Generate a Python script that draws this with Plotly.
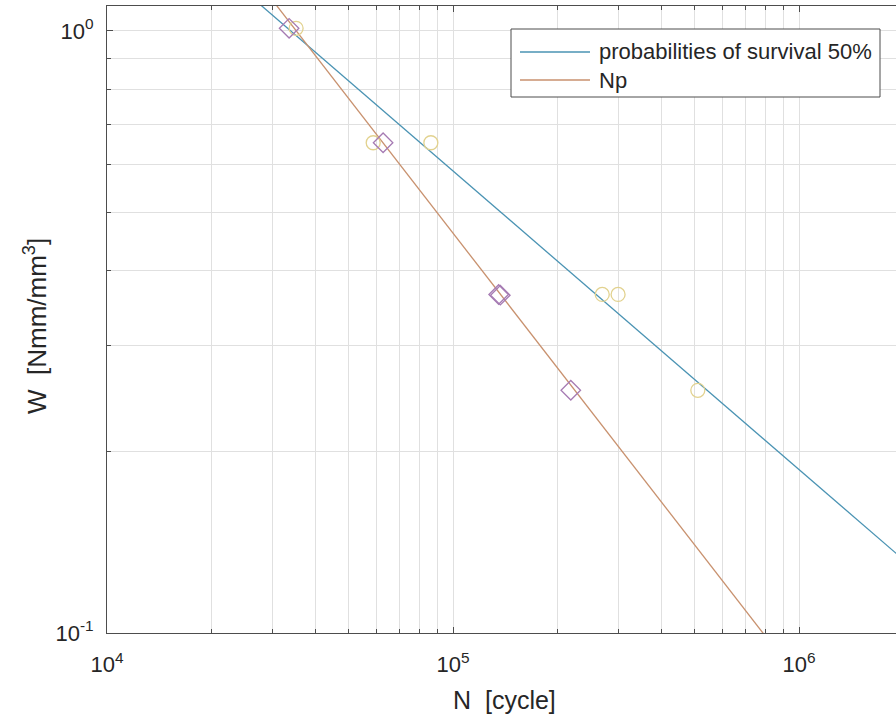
import numpy as np
import plotly.graph_objects as go

# ---- data ----
circle_N = [35200, 58800, 86300, 270000, 300000, 510000]
circle_W = [1.01, 0.652, 0.652, 0.365, 0.365, 0.253]

diamond_N = [33600, 62800, 135500, 137000, 219000]
diamond_W = [1.01, 0.652, 0.365, 0.364, 0.253]

p50_N = [25000, 2000000]
p50_W = [1.164, 0.1325]

np_N = [25000, 1000000]
np_W = [1.29, 0.0837]

legend_names = ["probabilities of survival 50%", "Np"]

x_major = [1e4, 1e5, 1e6]
x_major_text = ["10<sup>4</sup>", "10<sup>5</sup>", "10<sup>6</sup>"]
x_minor = [m * 10 ** e for e in (4, 5) for m in range(2, 10)] + [2e6]
y_major = [0.1, 1.0]
y_major_text = ["10<sup>-1</sup>", "10<sup>0</sup>"]
y_minor = [round(0.1 * k, 1) for k in range(2, 10)]

BLUE = "#4a93b3"
ORANGE = "#c8916e"
YELLOW = "#e2d28f"
PURPLE = "#a67bb3"
AX = "#4d4d4d"
GRID = "#e0e0e0"
FONT = "Liberation Sans, Arial, sans-serif"

fig = go.Figure()
fig.add_trace(go.Scatter(x=p50_N, y=p50_W, mode="lines", line=dict(color=BLUE, width=1.3),
                         name=legend_names[0], showlegend=False))
fig.add_trace(go.Scatter(x=np_N, y=np_W, mode="lines", line=dict(color=ORANGE, width=1.3),
                         name=legend_names[1], showlegend=False))
fig.add_trace(go.Scatter(x=circle_N, y=circle_W, mode="markers",
                         marker=dict(symbol="circle-open", size=14, color=YELLOW, line=dict(width=1.3)),
                         showlegend=False))
fig.add_trace(go.Scatter(x=diamond_N, y=diamond_W, mode="markers",
                         marker=dict(symbol="diamond-open", size=15, color=PURPLE, line=dict(width=1.3)),
                         showlegend=False))

L, T, B = 107, 6, 90
W, H = 896, 723
pw, ph = W - L, H - T - B

def px(xp):
    return (xp - L) / pw

def py(yp):
    return (H - B - yp) / ph

# custom legend (MATLAB-style)
shapes = [dict(type="rect", xref="paper", yref="paper", x0=px(511), x1=px(880), y0=py(97), y1=py(29),
               line=dict(color=AX, width=1), fillcolor="white", layer="above")]
annotations = []
for i, (name, col) in enumerate(zip(legend_names, [BLUE, ORANGE])):
    yy = 52 + i * 28
    shapes.append(dict(type="line", xref="paper", yref="paper", x0=px(520), x1=px(590), y0=py(yy), y1=py(yy),
                       line=dict(color=col, width=1.3), layer="above"))
    annotations.append(dict(xref="paper", yref="paper", x=px(597), y=py(yy), text=name, showarrow=False,
                            xanchor="left", yanchor="middle", font=dict(family=FONT, size=22, color="#262626")))

annotations.append(dict(xref="paper", yref="paper", x=px(505), y=py(700), text="N  [cycle]", showarrow=False,
                        xanchor="center", yanchor="middle", font=dict(family=FONT, size=25, color="#262626")))
annotations.append(dict(xref="paper", yref="paper", x=px(35), y=py(326), text="W  [Nmm/mm<sup>3</sup>]",
                        showarrow=False, textangle=-90, xanchor="center", yanchor="middle",
                        font=dict(family=FONT, size=26, color="#262626")))

fig.update_layout(
    width=W, height=H, margin=dict(l=L, r=0, t=T, b=B),
    paper_bgcolor="white", plot_bgcolor="white",
    shapes=shapes, annotations=annotations,
    xaxis=dict(type="log", range=[4, 4 + (W - L) / 346.0], tickmode="array", tickvals=x_major, ticktext=x_major_text,
               showgrid=True, gridcolor=GRID, gridwidth=1, showline=True, linecolor=AX, linewidth=1,
               mirror="ticks", ticks="inside", ticklen=6, tickcolor=AX, ticklabelstandoff=12,
               minor=dict(tickmode="array", tickvals=x_minor, showgrid=True, gridcolor=GRID, gridwidth=1,
                          ticks="inside", ticklen=4, tickcolor=AX),
               tickfont=dict(family=FONT, size=22, color="#262626"), zeroline=False),
    yaxis=dict(type="log", range=[-1, np.log10(1.1)], tickmode="array", tickvals=y_major, ticktext=y_major_text,
               showgrid=True, gridcolor=GRID, gridwidth=1, showline=True, linecolor=AX, linewidth=1,
               mirror=False, ticks="inside", ticklen=6, tickcolor=AX, ticklabelstandoff=8,
               minor=dict(tickmode="array", tickvals=y_minor, showgrid=True, gridcolor=GRID, gridwidth=1,
                          ticks="inside", ticklen=4, tickcolor=AX),
               tickfont=dict(family=FONT, size=22, color="#262626"), zeroline=False),
)

fig.write_html("out.html")
